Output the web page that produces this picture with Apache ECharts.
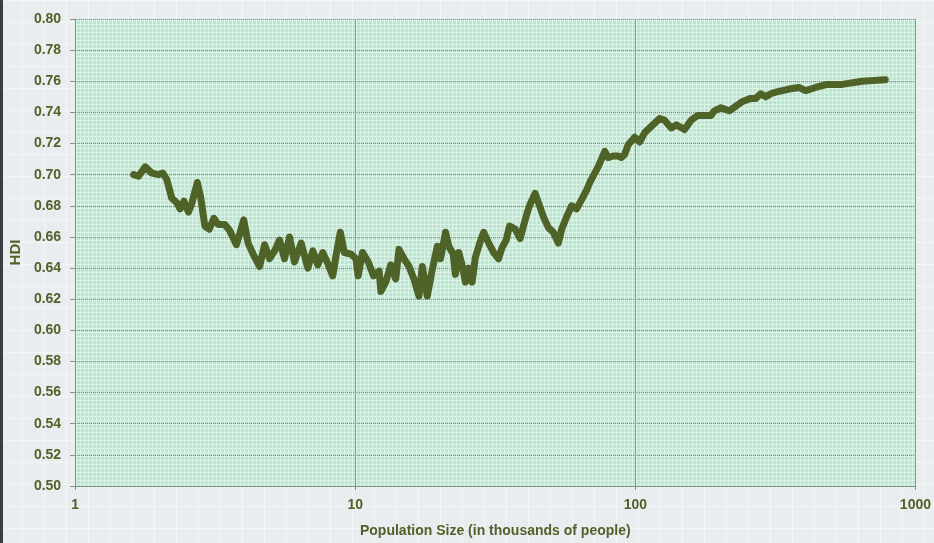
<!DOCTYPE html>
<html>
<head>
<meta charset="utf-8">
<title>HDI vs Population Size</title>
<script src="https://cdn.jsdelivr.net/npm/echarts@6/dist/echarts.min.js"></script>
<style>
  html, body { margin: 0; padding: 0; }
  body {
    width: 934px; height: 543px; overflow: hidden;
    background-color: #e9edf0;
    background-image:
      linear-gradient(to right, #3a3f44 0, #3a3f44 3px, transparent 3px),
      linear-gradient(rgba(255,255,255,0.45) 1px, transparent 1px),
      linear-gradient(90deg, rgba(255,255,255,0.45) 1px, transparent 1px);
    background-size: 100% 100%, 22px 22px, 22px 22px;
  }
  #chart { width: 934px; height: 543px; }
</style>
</head>
<body>
<div id="chart"></div>
<script>
// population in thousands (log axis) and HDI
var population = [
  1.617, 1.684, 1.778, 1.878, 1.984, 2.055, 2.123, 2.212, 2.305, 2.368,
  2.446, 2.537, 2.606, 2.730, 2.804, 2.905, 3.012, 3.127, 3.242, 3.422,
  3.565, 3.765, 3.869, 3.998, 4.144, 4.317, 4.557, 4.747, 4.945, 5.152,
  5.367, 5.443, 5.591, 5.825, 6.069, 6.411, 6.772, 7.055, 7.348, 7.656,
  7.977, 8.310, 8.539, 8.845, 9.139, 9.652, 10.06, 10.24, 10.62, 11.12,
  11.62, 12.17, 12.34, 12.85, 13.39, 13.95, 14.33, 14.93, 15.56, 16.20,
  16.88, 17.36, 18.08, 18.84, 19.63, 20.16, 21.01, 21.58, 22.37, 22.79,
  23.42, 24.07, 24.74, 25.42, 26.14, 26.85, 27.82, 28.74, 29.94, 31.19,
  32.49, 33.41, 34.60, 35.54, 37.24, 38.80, 39.86, 41.01, 42.10, 43.87,
  45.08, 46.96, 48.93, 50.97, 53.09, 54.59, 56.87, 59.24, 61.71, 64.29,
  66.99, 68.81, 70.69, 73.65, 77.80, 79.93, 83.27, 86.76, 89.21, 91.65,
  94.15, 99.45, 103.6, 108.0, 114.0, 122.0, 127.2, 134.3, 139.9, 149.8,
  158.2, 167.0, 176.4, 186.3, 191.4, 202.2, 216.4, 228.6, 241.3, 258.5,
  269.3, 280.5, 292.3, 304.5, 317.2, 334.8, 353.6, 383.8, 405.5, 440.1,
  483.9, 547.0, 644.5, 780.4
];
var hdi = [
  0.700, 0.699, 0.705, 0.701, 0.700, 0.701, 0.697, 0.685, 0.682, 0.678,
  0.683, 0.676, 0.681, 0.695, 0.686, 0.667, 0.665, 0.672, 0.668, 0.668,
  0.664, 0.655, 0.662, 0.671, 0.656, 0.649, 0.641, 0.655, 0.646, 0.651,
  0.658, 0.658, 0.646, 0.660, 0.644, 0.656, 0.640, 0.651, 0.642, 0.650,
  0.643, 0.635, 0.648, 0.663, 0.650, 0.649, 0.646, 0.635, 0.650, 0.644,
  0.635, 0.638, 0.625, 0.631, 0.642, 0.633, 0.652, 0.646, 0.641, 0.633,
  0.622, 0.641, 0.622, 0.639, 0.654, 0.646, 0.663, 0.654, 0.649, 0.636,
  0.650, 0.642, 0.631, 0.640, 0.631, 0.647, 0.656, 0.663, 0.656, 0.650,
  0.646, 0.653, 0.658, 0.667, 0.665, 0.659, 0.667, 0.675, 0.681, 0.688,
  0.682, 0.673, 0.666, 0.663, 0.656, 0.665, 0.673, 0.680, 0.678, 0.684,
  0.690, 0.695, 0.699, 0.705, 0.715, 0.711, 0.712, 0.712, 0.711, 0.713,
  0.719, 0.724, 0.721, 0.727, 0.731, 0.736, 0.735, 0.730, 0.732, 0.729,
  0.735, 0.738, 0.738, 0.738, 0.741, 0.743, 0.741, 0.744, 0.747, 0.749,
  0.749, 0.752, 0.750, 0.752, 0.753, 0.754, 0.755, 0.756, 0.754, 0.756,
  0.758, 0.758, 0.760, 0.761
];

var olive = '#4f6228';
var font = '"Liberation Sans Narrow", "Liberation Sans", sans-serif';

// light green hatched fill of the plot area
var tile = document.createElement('canvas');
tile.width = 4; tile.height = 4;
var tc = tile.getContext('2d');
tc.fillStyle = '#b9e6cf';
tc.fillRect(0, 0, 4, 4);
tc.fillStyle = '#dcf2e6';
tc.fillRect(0, 0, 4, 1);
tc.fillRect(0, 0, 1, 4);

var points = [];
for (var i = 0; i < population.length; i++) {
  points.push([population[i], hdi[i]]);
}

var option = {
  animation: false,
  grid: {
    left: 73, right: 17, top: 19, bottom: 56,
    show: true,
    backgroundColor: { image: tile, repeat: 'repeat' },
    borderWidth: 0
  },
  xAxis: {
    type: 'log',
    logBase: 10,
    min: 1, max: 1000,
    name: 'Population Size (in thousands of people)',
    nameLocation: 'middle',
    nameGap: 38,
    nameTextStyle: { color: olive, fontFamily: font, fontWeight: 'bold', fontSize: 14 },
    axisLine: { lineStyle: { color: '#8a8f8c', width: 1 } },
    axisTick: { show: true, length: 4, lineStyle: { color: '#8a8f8c' } },
    axisLabel: {
      color: olive, fontFamily: font, fontWeight: 'bold', fontSize: 14, margin: 12,
      formatter: function (v) { return String(Math.round(v)); }
    },
    splitLine: { show: true, lineStyle: { color: '#8f9c96', width: 1 } },
    minorTick: { show: false }
  },
  yAxis: {
    type: 'value',
    min: 0.5, max: 0.8, interval: 0.02,
    name: 'HDI',
    nameLocation: 'middle',
    nameGap: 52,
    nameRotate: 90,
    nameTextStyle: { color: olive, fontFamily: font, fontWeight: 'bold', fontSize: 15 },
    axisLine: { show: true, lineStyle: { color: '#8a8f8c', width: 1 } },
    axisTick: { show: true, length: 5, lineStyle: { color: '#8a8f8c' } },
    axisLabel: {
      color: olive, fontFamily: font, fontWeight: 'bold', fontSize: 14, margin: 14,
      formatter: function (v) { return v.toFixed(2); }
    },
    splitLine: { show: true, lineStyle: { color: '#747b76', width: 1, type: [1, 1] } }
  },
  series: [
    {
      type: 'line',
      data: points,
      showSymbol: false,
      smooth: false,
      lineStyle: { color: olive, width: 7, join: 'round', cap: 'round' }
    }
  ]
};

echarts.init(document.getElementById('chart')).setOption(option);
</script>
</body>
</html>
